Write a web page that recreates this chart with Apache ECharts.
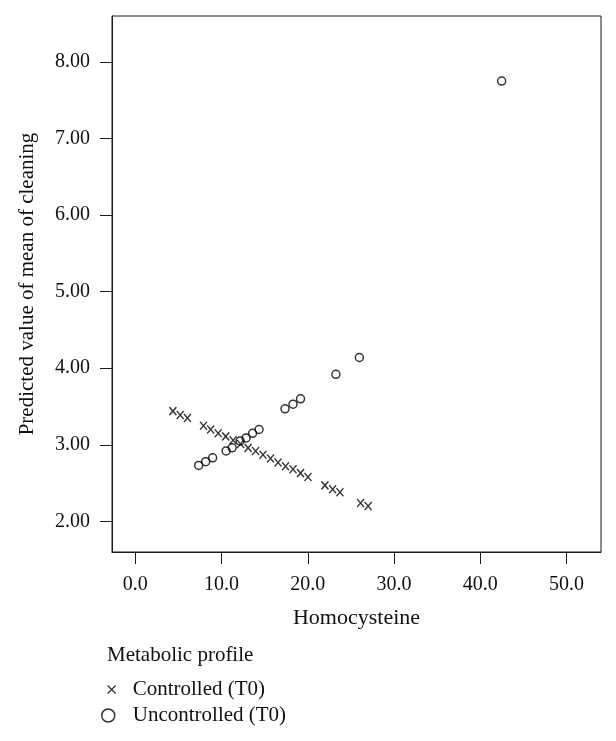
<!DOCTYPE html>
<html>
<head>
<meta charset="utf-8">
<script src="https://cdn.jsdelivr.net/npm/echarts@6/dist/echarts.min.js"></script>
<style>
html,body{margin:0;padding:0;background:#fff;}
#chart{width:616px;height:741px;}
</style>
</head>
<body>
<div id="chart"></div>
<script>
// ---- data ----
const controlledX = [4.36, 5.21, 6.05, 7.91, 8.74, 9.61, 10.48, 11.34, 12.21, 13.08, 13.95, 14.81, 15.68, 16.55, 17.42, 18.29, 19.16, 20.02, 21.99, 22.88, 23.73, 26.12, 27.00];
const controlledY = [3.44, 3.39, 3.35, 3.25, 3.20, 3.15, 3.11, 3.06, 3.01, 2.96, 2.92, 2.87, 2.82, 2.77, 2.72, 2.68, 2.63, 2.58, 2.47, 2.42, 2.38, 2.24, 2.20];
const uncontrolledX = [7.35, 8.16, 8.97, 10.53, 11.23, 12.15, 12.85, 13.60, 14.35, 17.36, 18.29, 19.16, 23.26, 25.98, 42.48];
const uncontrolledY = [2.73, 2.78, 2.83, 2.92, 2.96, 3.05, 3.09, 3.15, 3.20, 3.47, 3.53, 3.60, 3.92, 4.14, 7.75];
const xTicks = [0, 10, 20, 30, 40, 50];
const yTicks = [2, 3, 4, 5, 6, 7, 8];
const seriesNames = ['Controlled (T0)', 'Uncontrolled (T0)'];
const legendTitle = 'Metabolic profile';
const xName = 'Homocysteine';
const yName = 'Predicted value of mean of cleaning';

const FONT = '"Liberation Serif", "Times New Roman", serif';
const xMarker = 'path://M0,0L10,10M10,0L0,10';

const chart = echarts.init(document.getElementById('chart'), null, {renderer: 'canvas'});
const option = {
  animation: false,
  backgroundColor: '#fff',
  textStyle: {fontFamily: FONT, color: '#000'},
  title: {
    text: legendTitle,
    left: 107, top: 645, padding: 0,
    textStyle: {fontFamily: FONT, fontSize: 21, fontWeight: 'normal', color: '#111'}
  },
  grid: {
    left: 112, right: 15, top: 16, bottom: 189,
    show: true, borderColor: '#1a1a1a', borderWidth: 1, backgroundColor: 'transparent'
  },
  legend: [
    {
      data: [{name: seriesNames[0], icon: xMarker,
              itemStyle: {color: 'transparent', borderColor: '#000', borderWidth: 1.3}}],
      left: 107, top: 679, padding: 0,
      itemWidth: 8, itemHeight: 8,
      textStyle: {fontFamily: FONT, fontSize: 21, color: '#111', padding: [0, 0, 0, 12]}
    },
    {
      data: [{name: seriesNames[1], icon: 'circle',
              itemStyle: {color: 'transparent', borderColor: '#000', borderWidth: 1.5}}],
      left: 101, top: 705, padding: 0,
      itemWidth: 13, itemHeight: 13,
      textStyle: {fontFamily: FONT, fontSize: 21, color: '#111', padding: [0, 0, 0, 13]}
    }
  ],
  xAxis: {
    type: 'value', min: -2.7, max: 54,
    name: xName, nameLocation: 'middle', nameGap: 55,
    nameTextStyle: {fontFamily: FONT, fontSize: 22, color: '#111'},
    axisLine: {show: true, onZero: false, lineStyle: {color: '#1a1a1a', width: 1}},
    axisTick: {show: true, inside: false, length: 12, customValues: xTicks, lineStyle: {color: '#1a1a1a', width: 1}},
    axisLabel: {customValues: xTicks, margin: 23, fontFamily: FONT, fontSize: 20, color: '#111',
                formatter: v => v.toFixed(1)},
    splitLine: {show: false}
  },
  yAxis: {
    type: 'value', min: 1.6, max: 8.6,
    name: yName, nameLocation: 'middle', nameGap: 74, nameRotate: 90,
    nameTextStyle: {fontFamily: FONT, fontSize: 21, color: '#111'},
    axisLine: {show: true, onZero: false, lineStyle: {color: '#1a1a1a', width: 1}},
    axisTick: {show: true, inside: false, length: 12, customValues: yTicks, lineStyle: {color: '#1a1a1a', width: 1}},
    axisLabel: {customValues: yTicks, margin: 22, fontFamily: FONT, fontSize: 20, color: '#111',
                formatter: v => v.toFixed(2)},
    splitLine: {show: false}
  },
  series: [
    {
      name: seriesNames[0], type: 'scatter',
      data: controlledX.map((x, i) => [x, controlledY[i]]),
      symbol: xMarker, symbolSize: [7, 8],
      itemStyle: {color: 'transparent', borderColor: '#000', borderWidth: 1.4}
    },
    {
      name: seriesNames[1], type: 'scatter',
      data: uncontrolledX.map((x, i) => [x, uncontrolledY[i]]),
      symbol: 'circle', symbolSize: 8,
      itemStyle: {color: 'transparent', borderColor: '#000', borderWidth: 1.5}
    }
  ]
};
chart.setOption(option);
</script>
</body>
</html>
